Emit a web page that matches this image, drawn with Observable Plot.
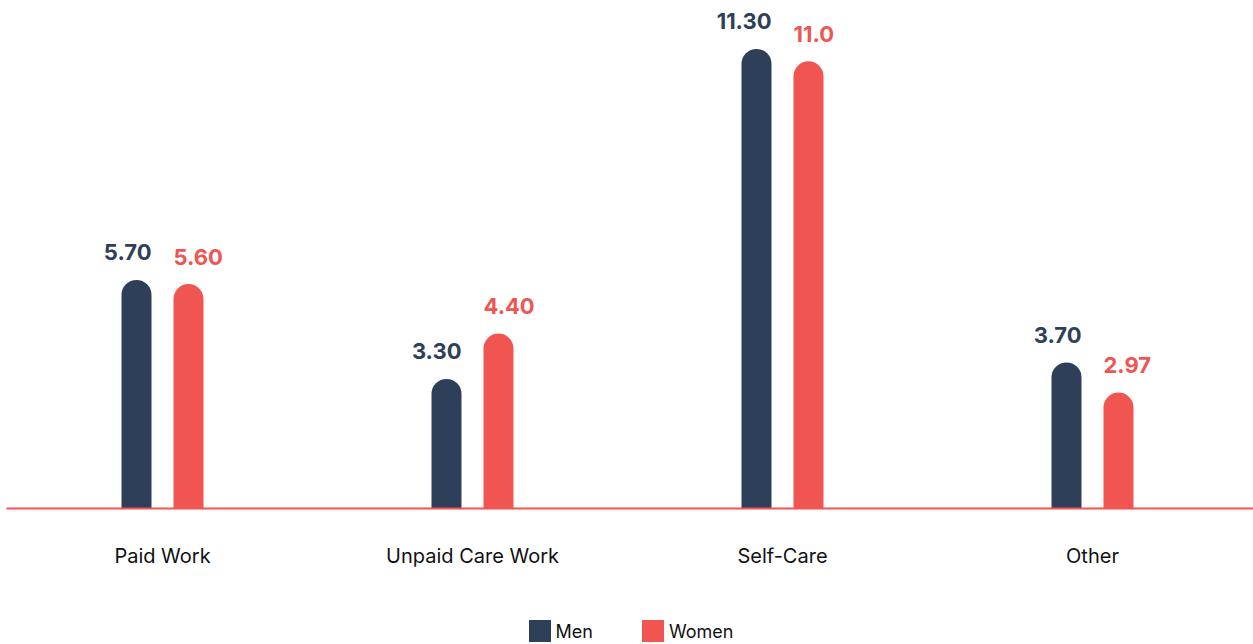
<!DOCTYPE html>
<html><head><meta charset="utf-8">
<script src="https://cdn.jsdelivr.net/npm/d3@7"></script>
<script src="https://cdn.jsdelivr.net/npm/@observablehq/plot@0.6"></script>
<style>
body{margin:0;background:#fff;font-family:Inter,"Noto Sans",sans-serif;overflow:hidden}
#chart svg{display:block}
#legend{display:flex;justify-content:center;height:30px;margin-top:6px;align-items:center;font-size:18px;color:#111;padding-left:9px}
.item{display:flex;align-items:center;margin-right:49px}
.item:last-child{margin-right:0}
.sw{width:22px;height:22px;margin-right:5px}
</style></head><body>
<div id="chart"></div>
<div id="legend"></div>
<script>
const categories = ["Paid Work", "Unpaid Care Work", "Self-Care", "Other"];
const series = ["Men", "Women"];
const men = [5.70, 3.30, 11.30, 3.70];
const women = [5.60, 4.40, 11.0, 2.97];
const menLabels = ["5.70", "3.30", "11.30", "3.70"];
const womenLabels = ["5.60", "4.40", "11.0", "2.97"];
const colors = ["#2e4059", "#f05552"];

const menData = categories.map((c, i) => ({cat: c, v: men[i], label: menLabels[i]}));
const womenData = categories.map((c, i) => ({cat: c, v: women[i], label: womenLabels[i]}));

const W = 1253, H = 610;
const chart = Plot.plot({
  width: W, height: H,
  marginLeft: 7, marginRight: 0, marginTop: 0, marginBottom: 102,
  style: {fontFamily: "Inter, 'Noto Sans', sans-serif", background: "#fff"},
  x: {type: "band", domain: categories, range: [7, 1247], padding: 0, label: null},
  y: {domain: [0, 12], range: [530, 35], axis: null},
  marks: [
    Plot.ruleX(menData, {x: "cat", y1: 0, y2: "v", dx: -26, stroke: colors[0], strokeWidth: 30, strokeLinecap: "round", clip: true}),
    Plot.ruleX(womenData, {x: "cat", y1: 0, y2: "v", dx: 26, stroke: colors[1], strokeWidth: 30, strokeLinecap: "round", clip: true}),
    Plot.frame({anchor: "bottom", stroke: colors[1], strokeWidth: 2}),
    Plot.text(menData, {x: "cat", y: "v", text: "label", dx: -11, dy: -35, textAnchor: "end", lineAnchor: "bottom", fill: colors[0], fontSize: 22, fontWeight: 700}),
    Plot.text(womenData, {x: "cat", y: "v", text: "label", dx: 11, dy: -35, textAnchor: "start", lineAnchor: "bottom", fill: colors[1], fontSize: 22, fontWeight: 700}),
    Plot.axisX({tickSize: 0, tickPadding: 40, fontSize: 20, label: null, color: "#111"})
  ]
});
document.getElementById("chart").appendChild(chart);

const legend = document.getElementById("legend");
series.forEach((s, i) => {
  const it = document.createElement("div"); it.className = "item";
  const sw = document.createElement("div"); sw.className = "sw"; sw.style.background = colors[i];
  const t = document.createElement("span"); t.textContent = s;
  it.appendChild(sw); it.appendChild(t); legend.appendChild(it);
});
</script>
</body></html>
